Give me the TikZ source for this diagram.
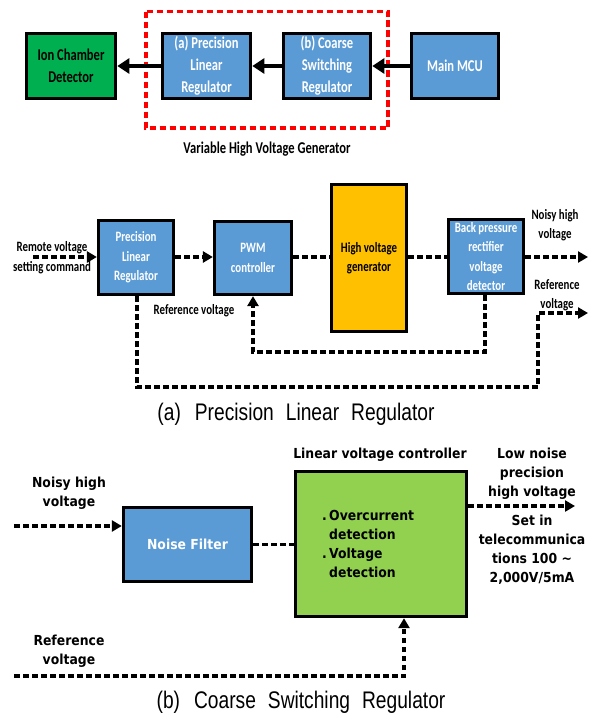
\documentclass[tikz,border=0pt]{standalone}
\usepackage{fontspec}
\usetikzlibrary{arrows.meta}
\newfontfamily\carl[FakeStretch=0.76]{Carlito}
\newfontfamily\dvs[FakeStretch=0.9]{DejaVu Sans}
\newfontfamily\capf[FakeStretch=0.8]{Liberation Sans}
\definecolor{boxblue}{HTML}{5B9BD5}
\definecolor{topgreen}{HTML}{00B050}
\definecolor{hvorange}{HTML}{FFC000}
\definecolor{lvgreen}{HTML}{92D050}
\newcommand\wsp{\hspace{12pt}}
\tikzset{
  topbox/.style={draw=black, line width=3.6pt, fill=boxblue, text=white, align=center, inner sep=0pt,
    minimum width=88pt, minimum height=65pt, font=\carl\bfseries\fontsize{16.5}{22}\selectfont},
  midbox/.style={draw=black, line width=3.2pt, fill=boxblue, text=white, align=center, inner sep=0pt,
    minimum width=75pt, minimum height=74pt, font=\carl\bfseries\fontsize{14.3}{19.5}\selectfont},
  botbox/.style={draw=black, line width=3.4pt, fill=boxblue, text=white, align=center, inner sep=0pt,
    font=\dvs\bfseries\fontsize{13.8}{19}\selectfont},
  toplbl/.style={align=center, inner sep=0pt, font=\carl\bfseries\fontsize{16.5}{22}\selectfont},
  midlbl/.style={align=center, inner sep=0pt, font=\carl\bfseries\fontsize{14.3}{19.5}\selectfont},
  botlbl/.style={align=center, inner sep=0pt, font=\dvs\bfseries\fontsize{13.8}{19}\selectfont},
  caplbl/.style={inner sep=0pt, font=\capf\fontsize{24}{28}\selectfont},
  solidarrow/.style={line width=4pt, -{Triangle[length=12pt,width=15pt]}},
  dashline/.style={line width=3.3pt, dash pattern=on 5.5pt off 3.5pt},
  dasharrow/.style={dashline, -{Triangle[length=10pt,width=11pt]}}
}
\begin{document}
\begin{tikzpicture}[x=1pt,y=-1pt]
\fill[white] (0,0) rectangle (598,715);
\useasboundingbox (0,0) rectangle (598,715);

% ---- top diagram ----
\draw[red, line width=3.4pt, dash pattern=on 6.5pt off 3.5pt] (146,11.5) rectangle (388,128);
\node[topbox, fill=topgreen, text=black, minimum width=89pt] (ion) at (71,66) {Ion Chamber\\Detector};
\node[topbox] (apl) at (206.5,66) {(a) Precision\\Linear\\Regulator};
\node[topbox, minimum width=87pt] (bcs) at (327,66) {(b) Coarse\\Switching\\Regulator};
\node[topbox, minimum width=87pt] (mcu) at (455,66) {Main MCU};
\draw[solidarrow] (mcu.west) -- (bcs.east);
\draw[solidarrow] (bcs.west) -- (apl.east);
\draw[solidarrow] (apl.west) -- (ion.east);
\node[toplbl, text=black] (vhv) at (267,149) {Variable High Voltage Generator};

% ---- diagram (a) ----
\node[midbox] (plr) at (136,257.5) {Precision\\Linear\\Regulator};
\node[midbox, minimum width=77pt, minimum height=73pt] (pwm) at (253,258) {PWM\\controller};
\node[midbox, fill=hvorange, text=black, minimum height=147pt] (hvg) at (369,258) {High voltage\\generator};
\node[midbox] (bpr) at (486,256.5) {Back pressure\\rectifier\\voltage\\detector};
\coordinate (ain) at (33,257);
\coordinate (aout) at (588,257);
\coordinate (rout) at (588,313);
\coordinate (rbl) at (137,387);
\coordinate (rbr) at (538,387);
\coordinate (rtr) at (538,313);
\coordinate (fbr) at (485,352);
\coordinate (fbl) at (253,352);
\draw[dasharrow] (ain) -- (ain -| plr.west);
\draw[dasharrow] (plr.east |- ain) -- (pwm.west |- ain);
\draw[dashline] (pwm.east |- ain) -- (hvg.west |- ain);
\draw[dashline] (hvg.east |- ain) -- (bpr.west |- ain);
\draw[dasharrow] (bpr.east |- ain) -- (aout);
\draw[dasharrow] (plr.south -| rbl) -- (rbl) -- (rbr) -- (rtr) -- (rout);
\draw[dasharrow] (bpr.south -| fbr) -- (fbr) -- (fbl) -- (pwm.south -| fbl);
\node[midlbl] (rvc) at (52,257.5) {Remote voltage\\setting command};
\node[midlbl] (refa) at (194,311) {Reference voltage};
\node[midlbl] (nhv) at (555,225) {Noisy high\\voltage};
\node[midlbl] (refb) at (557,295) {Reference\\voltage};
\node[caplbl] (capa) at (296,414) {(a)\hspace{14pt}Precision\wsp Linear\wsp Regulator};

% ---- diagram (b) ----
\node[botbox, minimum width=128pt, minimum height=74pt] (nf) at (187.5,544.5) {Noise Filter};
\node[botbox, fill=lvgreen, minimum width=171pt, minimum height=145pt] (lvc) at (381,544) {};
\node[botlbl, align=left, anchor=west] (lvct) at (322,543.5) {.\,Overcurrent\\\hphantom{.\,}detection\\.\,Voltage\\\hphantom{.\,}detection};
\coordinate (bin) at (14,526);
\coordinate (bout) at (575,506);
\coordinate (rin) at (14,676);
\coordinate (rcor) at (404,676);
\draw[dasharrow] (bin) -- (bin -| nf.west);
\draw[dashline] (nf.east) -- (nf.east -| lvc.west);
\draw[dasharrow] (lvc.east |- bout) -- (bout);
\draw[dasharrow] (rin) -- (rcor) -- (lvc.south -| rcor);
\node[botlbl] (lvcl) at (380,455) {Linear voltage controller};
\node[botlbl] (nhvb) at (69,493) {Noisy high\\voltage};
\node[botlbl] (refc) at (69,651) {Reference\\voltage};
\node[botlbl] (lnp) at (532,474) {Low noise\\precision\\high voltage};
\node[botlbl] (setin) at (532,550) {Set in\\telecommunica\\tions 100 \textasciitilde\\2,000V/5mA};
\node[caplbl] (capb) at (301,702) {(b)\hspace{14pt}Coarse\wsp Switching\wsp Regulator};
\end{tikzpicture}
\end{document}
